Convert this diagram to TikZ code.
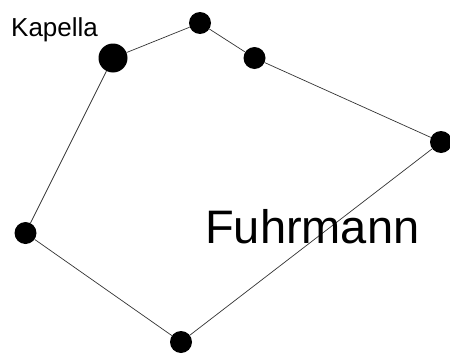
\documentclass[tikz,border=0pt]{standalone}
\usepackage{fontspec}
\setmainfont{Liberation Sans}
\begin{document}
\begin{tikzpicture}[x=1pt,y=-1pt,
  star/.style={circle,fill=black,inner sep=0pt,minimum size=22pt},
  bigstar/.style={circle,fill=black,inner sep=0pt,minimum size=29pt},
  link/.style={draw=black!80,line width=0.7pt}]
\useasboundingbox (0,0) rectangle (450,356);
\node[bigstar] (kap) at (113,58) {};
\node[star] (s2) at (200,23) {};
\node[star] (s3) at (254.5,58) {};
\node[star] (s4) at (441,142) {};
\node[star] (s5) at (181,342) {};
\node[star] (s6) at (25.5,233) {};
\path[link] (kap) -- (s2) -- (s3) -- (s4) -- (s5) -- (s6) -- (kap);
\node[anchor=base west,inner sep=0pt,font=\fontsize{26}{28}\selectfont] (lkap) at (11,36) {Kapella};
\node[anchor=base west,inner sep=0pt,font=\fontsize{47}{50}\selectfont] (lfuhr) at (205,243) {Fuhrmann};
\end{tikzpicture}
\end{document}
